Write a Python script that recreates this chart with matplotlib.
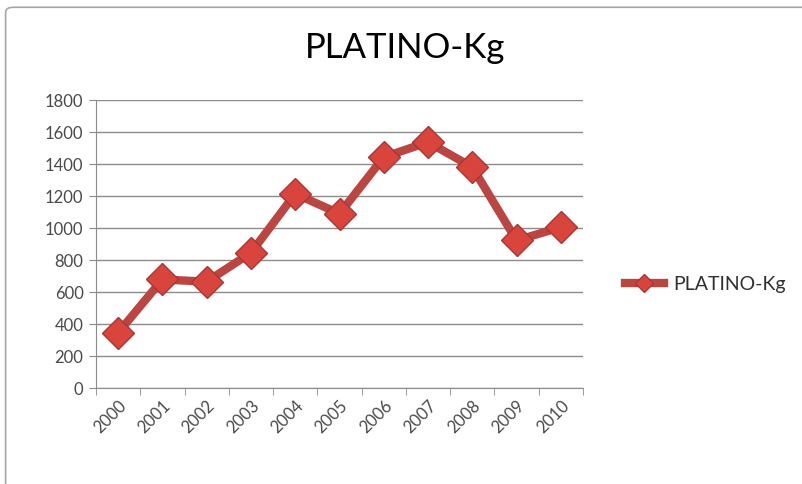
import numpy as np
import matplotlib.pyplot as plt
from matplotlib.patches import FancyBboxPatch

years = ["2000", "2001", "2002", "2003", "2004", "2005",
         "2006", "2007", "2008", "2009", "2010"]
kg = [346, 679, 665, 846, 1215, 1090, 1444, 1538, 1381, 923, 1006]
series_name = "PLATINO-Kg"
y_ticks = [0, 200, 400, 600, 800, 1000, 1200, 1400, 1600, 1800]

line_color = "#BA4541"
marker_color = "#D9453D"
grid_color = "#8C8C8C"
text_color = "#4A4A4A"

fig = plt.figure(figsize=(8.03, 4.84), dpi=100)
fig.patches.append(FancyBboxPatch((0.007, -0.02), 1.02, 1.005,
                                  boxstyle="round,pad=0,rounding_size=0.01",
                                  transform=fig.transFigure, fill=False,
                                  edgecolor="#A6A6A6", linewidth=1.2))

ax = fig.add_axes([0.1196, 0.1983, 0.6064, 0.5947])
x = np.arange(len(years))
ax.plot(x, kg, color=line_color, linewidth=6, marker="D", markersize=16,
        markerfacecolor=marker_color, markeredgecolor="#A83632",
        markeredgewidth=1.0, label=series_name)

ax.set_xlim(-0.5, len(years) - 0.5)
ax.set_ylim(0, 1800)
ax.set_yticks(y_ticks)
ax.set_yticklabels([str(v) for v in y_ticks], fontsize=12, color=text_color,
                   family="Lato")
ax.set_xticks(x)
ax.set_xticklabels(years, rotation=45, ha="right", rotation_mode="anchor",
                   fontsize=12, color=text_color, family="Lato")
ax.set_xticks(np.arange(-0.5, len(years)), minor=True)
ax.tick_params(axis="x", which="major", length=0, pad=7)
ax.tick_params(axis="x", which="minor", length=5, color=grid_color)
ax.tick_params(axis="y", length=5, color=grid_color, pad=4)

ax.grid(axis="y", color=grid_color, linewidth=1.0)
ax.set_axisbelow(True)
for side in ["top", "right"]:
    ax.spines[side].set_visible(False)
for side in ["left", "bottom"]:
    ax.spines[side].set_color(grid_color)

fig.text(0.505, 0.9, series_name, ha="center", va="center", fontsize=25,
         family="Lato", fontweight="normal", color="black")

ax.legend(loc="center left", bbox_to_anchor=(1.05, 0.36), frameon=False,
          handlelength=2.0, handletextpad=0.5,
          prop={"family": "Lato", "size": 14}, markerscale=0.6,
          labelcolor="#303030")

fig.savefig("out.png", dpi=100)
